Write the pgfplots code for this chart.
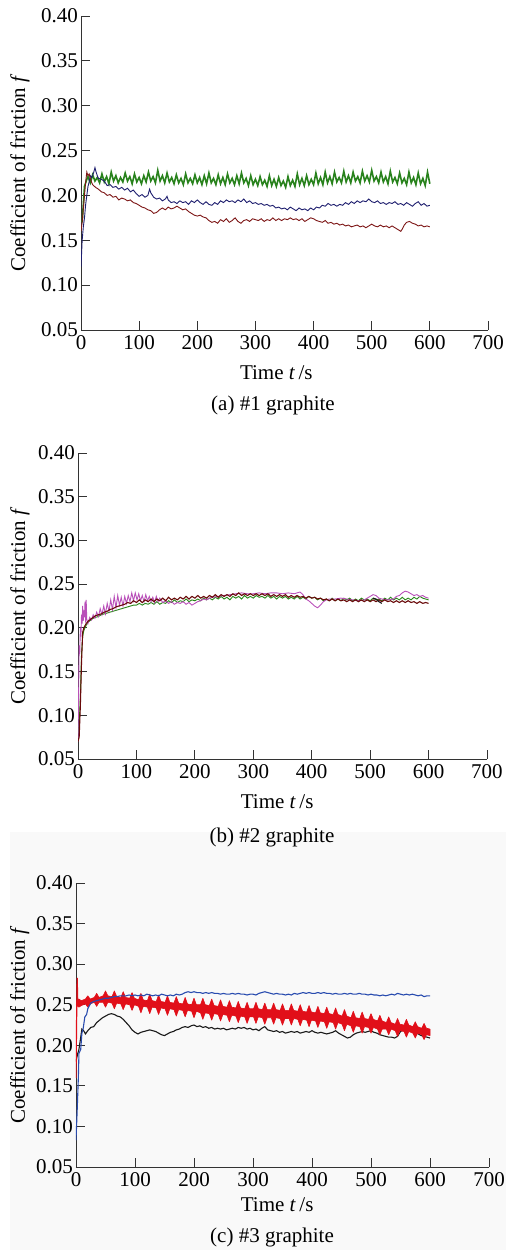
\documentclass[border=0pt]{standalone}
\usepackage{fontspec}
\setmainfont{Liberation Serif}
\usepackage{pgfplots}
\pgfplotsset{compat=1.18}
\definecolor{aGreen}{RGB}{40,130,28}
\definecolor{aNavy}{RGB}{30,30,110}
\definecolor{aMaroon}{RGB}{125,22,22}
\definecolor{bGreen}{RGB}{40,135,25}
\definecolor{bMaroon}{RGB}{105,10,10}
\definecolor{bMagenta}{RGB}{185,80,185}
\definecolor{cBlue}{RGB}{40,75,175}
\definecolor{cRed}{RGB}{225,15,25}
\definecolor{cBlack}{RGB}{25,25,25}
\definecolor{cBack}{RGB}{249,249,249}
\pgfplotsset{
  panel/.style={
    scale only axis,
    xmin=0, xmax=700, ymin=0.05, ymax=0.40,
    xtick={0,100,200,300,400,500,600,700},
    ytick={0.05,0.10,0.15,0.20,0.25,0.30,0.35,0.40},
    yticklabel style={/pgf/number format/fixed, /pgf/number format/fixed zerofill, /pgf/number format/precision=2, inner xsep=3pt},
    xticklabel style={yshift=-1.5pt},
    /pgf/number format/assume math mode=true,
    axis x line*=bottom, axis y line*=left,
    axis line style={-, black!80, line width=0.9pt},
    tick style={black!80, line width=0.9pt},
    tick align=inside, major tick length=9pt,
    xlabel={Time \textit{t}\,/s},
    ylabel={Coefficient of friction \textit{f}},
    anchor=south west,
  }
}
\begin{document}
\begin{tikzpicture}[font=\fontsize{21}{25}\selectfont]
\fill[cBack] (10pt,-832pt) rectangle (506pt,-1250pt);

% ---------------- (a) ----------------
\begin{axis}[panel, at={(81pt,-330pt)}, width=407pt, height=314pt,
  xlabel style={at={(axis description cs:0.48,-0.137)}, anchor=center},
  ylabel style={at={(axis description cs:-0.150,0.5)}, anchor=center}]
\addplot[aGreen, line width=1.6pt] table[row sep=\\] {t f\\
2 0.170\\ 6 0.210\\ 10 0.218\\ 12 0.221\\ 16 0.214\\ 20 0.223\\ 24 0.216\\ 28 0.220\\ 32 0.214\\ 36 0.224\\ 40 0.215\\ 44 0.221\\ 48 0.213\\ 52 0.226\\ 56 0.216\\ 60 0.222\\ 64 0.214\\ 68 0.220\\ 72 0.215\\ 76 0.225\\ 80 0.216\\ 84 0.221\\ 88 0.213\\ 92 0.224\\ 96 0.215\\ 100 0.220\\ 104 0.213\\ 108 0.222\\ 112 0.215\\ 116 0.226\\ 120 0.216\\ 124 0.221\\ 128 0.214\\ 132 0.228\\ 136 0.216\\ 140 0.222\\ 144 0.214\\ 148 0.225\\ 152 0.215\\ 156 0.220\\ 160 0.213\\ 164 0.223\\ 168 0.214\\ 172 0.219\\ 176 0.212\\ 180 0.224\\ 184 0.214\\ 188 0.219\\ 192 0.213\\ 196 0.223\\ 200 0.214\\ 204 0.220\\ 208 0.212\\ 212 0.222\\ 216 0.213\\ 220 0.225\\ 224 0.214\\ 228 0.219\\ 232 0.212\\ 236 0.223\\ 240 0.213\\ 244 0.220\\ 248 0.212\\ 252 0.224\\ 256 0.214\\ 260 0.219\\ 264 0.212\\ 268 0.222\\ 272 0.213\\ 276 0.225\\ 280 0.214\\ 284 0.219\\ 288 0.211\\ 292 0.222\\ 296 0.212\\ 300 0.218\\ 304 0.211\\ 308 0.221\\ 312 0.212\\ 316 0.217\\ 320 0.210\\ 324 0.222\\ 328 0.211\\ 332 0.218\\ 336 0.210\\ 340 0.220\\ 344 0.211\\ 348 0.216\\ 352 0.209\\ 356 0.221\\ 360 0.211\\ 364 0.217\\ 368 0.210\\ 372 0.224\\ 376 0.212\\ 380 0.219\\ 384 0.211\\ 388 0.222\\ 392 0.212\\ 396 0.218\\ 400 0.212\\ 404 0.225\\ 408 0.213\\ 412 0.220\\ 416 0.212\\ 420 0.226\\ 424 0.214\\ 428 0.221\\ 432 0.213\\ 436 0.226\\ 440 0.215\\ 444 0.220\\ 448 0.214\\ 452 0.227\\ 456 0.215\\ 460 0.222\\ 464 0.214\\ 468 0.226\\ 472 0.216\\ 476 0.221\\ 480 0.214\\ 484 0.227\\ 488 0.216\\ 492 0.222\\ 496 0.215\\ 500 0.228\\ 504 0.216\\ 508 0.221\\ 512 0.214\\ 516 0.226\\ 520 0.215\\ 524 0.221\\ 528 0.213\\ 532 0.227\\ 536 0.215\\ 540 0.220\\ 544 0.213\\ 548 0.225\\ 552 0.214\\ 556 0.219\\ 560 0.212\\ 564 0.226\\ 568 0.214\\ 572 0.220\\ 576 0.212\\ 580 0.225\\ 584 0.213\\ 588 0.219\\ 592 0.211\\ 596 0.226\\ 600 0.213\\
};
\addplot[aNavy, line width=0.9pt] table[row sep=\\] {t f\\
0 0.120\\ 2 0.150\\ 4 0.165\\ 6 0.175\\ 8 0.190\\ 10 0.200\\ 12 0.210\\ 14 0.215\\ 16 0.222\\ 18 0.220\\ 20 0.222\\ 22 0.226\\ 24 0.231\\ 26 0.226\\ 28 0.222\\ 30 0.219\\ 35 0.218\\ 40 0.216\\ 45 0.211\\ 50 0.212\\ 55 0.209\\ 60 0.210\\ 65 0.207\\ 70 0.209\\ 75 0.206\\ 80 0.208\\ 85 0.204\\ 90 0.206\\ 95 0.202\\ 100 0.199\\ 105 0.201\\ 110 0.198\\ 115 0.200\\ 118 0.207\\ 120 0.203\\ 125 0.198\\ 130 0.196\\ 135 0.197\\ 140 0.194\\ 145 0.196\\ 148 0.199\\ 150 0.195\\ 155 0.192\\ 160 0.193\\ 165 0.191\\ 170 0.194\\ 175 0.192\\ 180 0.193\\ 185 0.190\\ 190 0.194\\ 195 0.192\\ 200 0.195\\ 205 0.192\\ 210 0.190\\ 215 0.193\\ 220 0.190\\ 225 0.189\\ 230 0.192\\ 235 0.190\\ 240 0.194\\ 245 0.192\\ 250 0.195\\ 255 0.193\\ 260 0.194\\ 265 0.192\\ 270 0.195\\ 275 0.193\\ 280 0.196\\ 285 0.192\\ 290 0.194\\ 295 0.191\\ 300 0.192\\ 305 0.190\\ 310 0.191\\ 315 0.189\\ 320 0.190\\ 325 0.188\\ 330 0.189\\ 335 0.186\\ 340 0.187\\ 345 0.185\\ 350 0.186\\ 355 0.184\\ 360 0.187\\ 365 0.185\\ 370 0.183\\ 375 0.186\\ 380 0.184\\ 385 0.185\\ 390 0.183\\ 395 0.186\\ 400 0.184\\ 405 0.187\\ 410 0.186\\ 415 0.189\\ 420 0.188\\ 425 0.191\\ 430 0.189\\ 435 0.190\\ 440 0.188\\ 445 0.190\\ 450 0.189\\ 455 0.192\\ 460 0.190\\ 465 0.193\\ 470 0.191\\ 475 0.194\\ 480 0.192\\ 485 0.194\\ 490 0.193\\ 495 0.196\\ 500 0.193\\ 505 0.192\\ 510 0.194\\ 515 0.191\\ 520 0.192\\ 525 0.190\\ 530 0.192\\ 535 0.191\\ 540 0.193\\ 545 0.190\\ 550 0.191\\ 555 0.189\\ 560 0.192\\ 565 0.190\\ 570 0.188\\ 575 0.191\\ 580 0.193\\ 585 0.189\\ 590 0.191\\ 595 0.188\\ 600 0.189\\
};
\addplot[aMaroon, line width=0.9pt] table[row sep=\\] {t f\\
0 0.160\\ 2 0.170\\ 4 0.185\\ 6 0.200\\ 8 0.215\\ 10 0.226\\ 12 0.222\\ 14 0.224\\ 16 0.219\\ 18 0.215\\ 20 0.212\\ 25 0.209\\ 30 0.207\\ 35 0.204\\ 40 0.203\\ 45 0.200\\ 50 0.201\\ 55 0.198\\ 60 0.199\\ 65 0.195\\ 70 0.197\\ 75 0.196\\ 80 0.194\\ 85 0.195\\ 90 0.192\\ 95 0.191\\ 100 0.189\\ 105 0.187\\ 110 0.186\\ 115 0.184\\ 120 0.183\\ 125 0.180\\ 130 0.181\\ 135 0.184\\ 140 0.186\\ 145 0.184\\ 150 0.187\\ 155 0.185\\ 160 0.186\\ 165 0.188\\ 170 0.186\\ 175 0.184\\ 180 0.185\\ 185 0.182\\ 190 0.180\\ 195 0.178\\ 200 0.177\\ 205 0.178\\ 210 0.176\\ 215 0.175\\ 220 0.172\\ 225 0.170\\ 230 0.171\\ 235 0.169\\ 240 0.173\\ 245 0.171\\ 250 0.174\\ 255 0.170\\ 260 0.172\\ 265 0.175\\ 270 0.171\\ 275 0.169\\ 280 0.172\\ 285 0.173\\ 290 0.171\\ 295 0.174\\ 300 0.173\\ 305 0.172\\ 310 0.174\\ 315 0.171\\ 320 0.173\\ 325 0.172\\ 330 0.175\\ 335 0.172\\ 340 0.174\\ 345 0.172\\ 350 0.174\\ 355 0.173\\ 360 0.175\\ 365 0.173\\ 370 0.174\\ 375 0.172\\ 380 0.174\\ 385 0.171\\ 390 0.173\\ 395 0.175\\ 400 0.174\\ 405 0.172\\ 410 0.171\\ 415 0.170\\ 420 0.172\\ 425 0.169\\ 430 0.170\\ 435 0.168\\ 440 0.169\\ 445 0.167\\ 450 0.168\\ 455 0.166\\ 460 0.167\\ 465 0.165\\ 470 0.166\\ 475 0.167\\ 480 0.165\\ 485 0.166\\ 490 0.164\\ 495 0.166\\ 500 0.168\\ 505 0.166\\ 510 0.165\\ 515 0.167\\ 520 0.165\\ 525 0.166\\ 530 0.164\\ 535 0.166\\ 540 0.164\\ 545 0.162\\ 550 0.160\\ 553 0.163\\ 556 0.167\\ 560 0.170\\ 565 0.171\\ 570 0.169\\ 575 0.168\\ 580 0.166\\ 585 0.167\\ 590 0.165\\ 595 0.166\\ 600 0.165\\
};
\end{axis}
\node at (273pt,-405pt) {(a) \#1 graphite};

% ---------------- (b) ----------------
\begin{axis}[panel, at={(78pt,-759pt)}, width=409pt, height=306pt,
  xlabel style={at={(axis description cs:0.487,-0.14)}, anchor=center},
  ylabel style={at={(axis description cs:-0.142,0.5)}, anchor=center}]
\addplot[bGreen, line width=0.9pt] table[row sep=\\] {t f\\
0 0.080\\ 2 0.090\\ 4 0.120\\ 6 0.170\\ 8 0.190\\ 10 0.197\\ 14 0.203\\ 18 0.207\\ 22 0.209\\ 26 0.211\\ 30 0.212\\ 35 0.213\\ 40 0.215\\ 45 0.216\\ 50 0.217\\ 55 0.218\\ 60 0.219\\ 65 0.220\\ 70 0.221\\ 75 0.222\\ 80 0.223\\ 85 0.224\\ 90 0.225\\ 95 0.226\\ 100 0.226\\ 105 0.228\\ 110 0.226\\ 115 0.228\\ 120 0.227\\ 125 0.229\\ 130 0.227\\ 135 0.230\\ 140 0.227\\ 145 0.229\\ 150 0.228\\ 155 0.231\\ 160 0.229\\ 165 0.232\\ 170 0.229\\ 175 0.231\\ 180 0.230\\ 185 0.233\\ 190 0.230\\ 195 0.232\\ 200 0.231\\ 205 0.233\\ 210 0.231\\ 215 0.234\\ 220 0.232\\ 225 0.234\\ 230 0.232\\ 235 0.235\\ 240 0.233\\ 245 0.236\\ 250 0.233\\ 255 0.235\\ 260 0.232\\ 265 0.236\\ 270 0.234\\ 275 0.236\\ 280 0.233\\ 285 0.237\\ 290 0.234\\ 295 0.236\\ 300 0.234\\ 305 0.237\\ 310 0.235\\ 315 0.236\\ 320 0.234\\ 325 0.237\\ 330 0.234\\ 335 0.236\\ 340 0.233\\ 345 0.236\\ 350 0.234\\ 355 0.236\\ 360 0.233\\ 365 0.235\\ 370 0.233\\ 375 0.236\\ 380 0.233\\ 385 0.235\\ 390 0.233\\ 395 0.236\\ 400 0.234\\ 405 0.235\\ 410 0.232\\ 415 0.234\\ 420 0.231\\ 425 0.233\\ 430 0.231\\ 435 0.234\\ 440 0.231\\ 445 0.233\\ 450 0.231\\ 455 0.234\\ 460 0.232\\ 465 0.234\\ 470 0.231\\ 475 0.233\\ 480 0.231\\ 485 0.234\\ 490 0.232\\ 495 0.233\\ 500 0.231\\ 505 0.234\\ 510 0.232\\ 515 0.233\\ 520 0.231\\ 525 0.234\\ 530 0.232\\ 535 0.235\\ 540 0.232\\ 545 0.234\\ 550 0.232\\ 555 0.235\\ 560 0.232\\ 565 0.234\\ 570 0.232\\ 575 0.235\\ 580 0.233\\ 585 0.236\\ 590 0.234\\ 595 0.233\\ 600 0.232\\
};
\addplot[bMagenta, line width=0.9pt] table[row sep=\\] {t f\\
0 0.070\\ 1 0.120\\ 2 0.180\\ 3 0.170\\ 4 0.200\\ 5 0.190\\ 6 0.215\\ 7 0.205\\ 8 0.225\\ 9 0.208\\ 10 0.220\\ 11 0.212\\ 12 0.230\\ 13 0.206\\ 14 0.232\\ 15 0.210\\ 17 0.205\\ 20 0.212\\ 23 0.209\\ 26 0.215\\ 29 0.211\\ 32 0.218\\ 35 0.213\\ 38 0.222\\ 41 0.215\\ 44 0.225\\ 47 0.216\\ 50 0.228\\ 53 0.219\\ 56 0.232\\ 59 0.221\\ 62 0.236\\ 65 0.223\\ 68 0.237\\ 71 0.226\\ 74 0.235\\ 77 0.225\\ 80 0.236\\ 83 0.228\\ 86 0.237\\ 89 0.230\\ 92 0.240\\ 95 0.231\\ 98 0.240\\ 101 0.232\\ 104 0.239\\ 107 0.231\\ 110 0.237\\ 113 0.230\\ 116 0.238\\ 119 0.231\\ 122 0.236\\ 125 0.230\\ 128 0.235\\ 131 0.229\\ 134 0.236\\ 137 0.230\\ 140 0.234\\ 145 0.229\\ 150 0.231\\ 155 0.228\\ 160 0.230\\ 165 0.227\\ 170 0.229\\ 175 0.228\\ 180 0.230\\ 185 0.227\\ 190 0.229\\ 195 0.226\\ 200 0.228\\ 205 0.230\\ 210 0.231\\ 215 0.233\\ 220 0.232\\ 225 0.234\\ 230 0.235\\ 240 0.236\\ 250 0.237\\ 260 0.238\\ 270 0.239\\ 280 0.240\\ 290 0.239\\ 300 0.239\\ 310 0.240\\ 320 0.239\\ 330 0.240\\ 340 0.240\\ 350 0.239\\ 360 0.240\\ 370 0.239\\ 380 0.241\\ 385 0.238\\ 390 0.233\\ 395 0.231\\ 400 0.228\\ 405 0.225\\ 410 0.223\\ 415 0.226\\ 420 0.230\\ 425 0.232\\ 430 0.233\\ 440 0.233\\ 450 0.234\\ 460 0.233\\ 470 0.232\\ 480 0.231\\ 490 0.232\\ 500 0.236\\ 505 0.238\\ 510 0.237\\ 515 0.234\\ 520 0.233\\ 530 0.232\\ 540 0.233\\ 545 0.236\\ 550 0.237\\ 555 0.240\\ 560 0.242\\ 565 0.241\\ 570 0.239\\ 575 0.237\\ 580 0.238\\ 585 0.236\\ 590 0.237\\ 595 0.235\\ 600 0.234\\
};
\addplot[bMaroon, line width=1.1pt] table[row sep=\\] {t f\\
0 0.070\\ 2 0.075\\ 4 0.110\\ 6 0.160\\ 8 0.195\\ 10 0.200\\ 14 0.205\\ 18 0.208\\ 22 0.210\\ 26 0.212\\ 30 0.214\\ 35 0.215\\ 40 0.216\\ 45 0.218\\ 50 0.219\\ 55 0.221\\ 60 0.222\\ 65 0.224\\ 70 0.225\\ 75 0.226\\ 80 0.227\\ 85 0.229\\ 90 0.228\\ 95 0.231\\ 100 0.229\\ 105 0.232\\ 110 0.229\\ 115 0.232\\ 120 0.230\\ 125 0.233\\ 130 0.230\\ 135 0.233\\ 140 0.231\\ 145 0.234\\ 150 0.231\\ 155 0.235\\ 160 0.232\\ 165 0.234\\ 170 0.232\\ 175 0.235\\ 180 0.233\\ 185 0.236\\ 190 0.233\\ 195 0.236\\ 200 0.234\\ 205 0.237\\ 210 0.234\\ 215 0.236\\ 220 0.234\\ 225 0.237\\ 230 0.235\\ 235 0.238\\ 240 0.235\\ 245 0.238\\ 250 0.236\\ 255 0.238\\ 260 0.236\\ 265 0.239\\ 270 0.237\\ 275 0.240\\ 280 0.237\\ 285 0.239\\ 290 0.237\\ 295 0.239\\ 300 0.237\\ 305 0.239\\ 310 0.237\\ 315 0.239\\ 320 0.237\\ 325 0.239\\ 330 0.236\\ 335 0.238\\ 340 0.236\\ 345 0.238\\ 350 0.236\\ 355 0.238\\ 360 0.235\\ 365 0.237\\ 370 0.235\\ 375 0.237\\ 380 0.235\\ 385 0.236\\ 390 0.234\\ 395 0.236\\ 400 0.234\\ 405 0.235\\ 410 0.233\\ 415 0.234\\ 420 0.232\\ 425 0.233\\ 430 0.231\\ 435 0.233\\ 440 0.231\\ 445 0.233\\ 450 0.231\\ 455 0.232\\ 460 0.230\\ 465 0.232\\ 470 0.230\\ 475 0.232\\ 480 0.230\\ 485 0.232\\ 490 0.230\\ 495 0.232\\ 500 0.230\\ 505 0.232\\ 510 0.230\\ 515 0.232\\ 520 0.230\\ 525 0.232\\ 530 0.230\\ 535 0.231\\ 540 0.229\\ 545 0.231\\ 550 0.229\\ 555 0.231\\ 560 0.229\\ 565 0.231\\ 570 0.229\\ 575 0.230\\ 580 0.228\\ 585 0.230\\ 590 0.228\\ 595 0.229\\ 600 0.228\\
};
\addplot[cBlack, line width=1.1pt] table[row sep=\\] {t f\\
505 0.234\\ 510 0.233\\ 515 0.230\\ 520 0.228\\
};
\end{axis}
\node at (272pt,-837pt) {(b) \#2 graphite};

% ---------------- (c) ----------------
\begin{axis}[panel, at={(76pt,-1167pt)}, width=413pt, height=284pt,
  xlabel style={at={(axis description cs:0.487,-0.134)}, anchor=center},
  ylabel style={at={(axis description cs:-0.136,0.5)}, anchor=center}]
\addplot[cBlack, line width=1.1pt] table[row sep=\\] {t f\\
0 0.180\\ 3 0.190\\ 5 0.195\\ 8 0.210\\ 10 0.220\\ 13 0.218\\ 16 0.214\\ 20 0.218\\ 25 0.222\\ 30 0.223\\ 35 0.228\\ 40 0.231\\ 45 0.234\\ 50 0.236\\ 55 0.238\\ 60 0.239\\ 65 0.238\\ 70 0.236\\ 75 0.235\\ 80 0.232\\ 85 0.228\\ 90 0.224\\ 95 0.219\\ 100 0.216\\ 105 0.214\\ 110 0.216\\ 115 0.217\\ 120 0.218\\ 125 0.219\\ 130 0.218\\ 135 0.217\\ 140 0.215\\ 145 0.213\\ 150 0.212\\ 155 0.214\\ 160 0.216\\ 165 0.217\\ 170 0.219\\ 175 0.220\\ 180 0.222\\ 185 0.223\\ 190 0.222\\ 195 0.224\\ 200 0.225\\ 205 0.223\\ 210 0.224\\ 215 0.222\\ 220 0.223\\ 225 0.221\\ 230 0.222\\ 235 0.220\\ 240 0.221\\ 245 0.220\\ 250 0.221\\ 255 0.219\\ 260 0.220\\ 265 0.221\\ 270 0.220\\ 275 0.222\\ 280 0.221\\ 285 0.222\\ 290 0.220\\ 295 0.221\\ 300 0.219\\ 305 0.220\\ 310 0.218\\ 315 0.221\\ 320 0.223\\ 325 0.219\\ 330 0.218\\ 335 0.217\\ 340 0.218\\ 345 0.216\\ 350 0.217\\ 355 0.215\\ 360 0.216\\ 365 0.217\\ 370 0.216\\ 375 0.217\\ 380 0.215\\ 385 0.216\\ 390 0.217\\ 395 0.216\\ 400 0.218\\ 405 0.216\\ 410 0.215\\ 415 0.216\\ 420 0.215\\ 425 0.214\\ 430 0.215\\ 435 0.216\\ 440 0.218\\ 445 0.215\\ 450 0.213\\ 455 0.211\\ 460 0.209\\ 465 0.210\\ 470 0.213\\ 475 0.215\\ 480 0.216\\ 485 0.217\\ 490 0.216\\ 495 0.217\\ 500 0.218\\ 505 0.216\\ 510 0.215\\ 515 0.213\\ 520 0.212\\ 525 0.211\\ 530 0.210\\ 535 0.210\\ 540 0.209\\ 545 0.211\\ 550 0.217\\ 555 0.219\\ 560 0.218\\ 565 0.220\\ 570 0.218\\ 575 0.217\\ 580 0.214\\ 585 0.212\\ 590 0.211\\ 595 0.210\\ 600 0.209\\
};
% red: band of the fast oscillation, upper envelope forward, lower envelope back
\addplot[cRed, fill=cRed, line width=0.6pt, line join=round] table[row sep=\\] {t f\\
1 0.255\\ 5 0.257\\ 9 0.255\\ 16 0.257\\ 20 0.261\\ 24 0.257\\ 31 0.259\\ 35 0.264\\ 39 0.259\\ 46 0.261\\ 50 0.267\\ 54 0.261\\ 61 0.260\\ 65 0.267\\ 69 0.260\\ 76 0.259\\ 80 0.266\\ 84 0.259\\ 91 0.258\\ 95 0.265\\ 99 0.258\\ 106 0.256\\ 110 0.264\\ 114 0.256\\ 121 0.255\\ 125 0.263\\ 129 0.255\\ 136 0.254\\ 140 0.262\\ 144 0.254\\ 151 0.253\\ 155 0.261\\ 159 0.253\\ 166 0.252\\ 170 0.260\\ 174 0.252\\ 181 0.251\\ 185 0.259\\ 189 0.251\\ 196 0.250\\ 200 0.258\\ 204 0.250\\ 211 0.250\\ 215 0.258\\ 219 0.250\\ 226 0.249\\ 230 0.257\\ 234 0.249\\ 241 0.248\\ 245 0.256\\ 249 0.248\\ 256 0.247\\ 260 0.255\\ 264 0.247\\ 271 0.246\\ 275 0.254\\ 279 0.246\\ 286 0.245\\ 290 0.253\\ 294 0.245\\ 301 0.245\\ 305 0.253\\ 309 0.245\\ 316 0.244\\ 320 0.252\\ 324 0.244\\ 331 0.244\\ 335 0.252\\ 339 0.244\\ 346 0.243\\ 350 0.251\\ 354 0.243\\ 361 0.243\\ 365 0.251\\ 369 0.243\\ 376 0.242\\ 380 0.250\\ 384 0.242\\ 391 0.241\\ 395 0.249\\ 399 0.241\\ 406 0.240\\ 410 0.248\\ 414 0.240\\ 421 0.239\\ 425 0.247\\ 429 0.239\\ 436 0.238\\ 440 0.246\\ 444 0.238\\ 451 0.236\\ 455 0.244\\ 459 0.236\\ 466 0.234\\ 470 0.242\\ 474 0.234\\ 481 0.233\\ 485 0.241\\ 489 0.233\\ 496 0.232\\ 500 0.239\\ 504 0.232\\ 511 0.230\\ 515 0.237\\ 519 0.230\\ 526 0.228\\ 530 0.235\\ 534 0.228\\ 541 0.226\\ 545 0.233\\ 549 0.226\\ 556 0.225\\ 560 0.232\\ 564 0.225\\ 571 0.223\\ 575 0.229\\ 579 0.223\\ 586 0.221\\ 590 0.227\\ 594 0.221\\ 600 0.220\\
600 0.212\\ 594 0.213\\ 590 0.207\\ 586 0.213\\ 579 0.215\\ 575 0.209\\ 571 0.215\\ 564 0.217\\ 560 0.210\\ 556 0.217\\ 549 0.218\\ 545 0.211\\ 541 0.218\\ 534 0.220\\ 530 0.213\\ 526 0.220\\ 519 0.220\\ 515 0.213\\ 511 0.220\\ 504 0.222\\ 500 0.215\\ 496 0.222\\ 489 0.223\\ 485 0.215\\ 481 0.223\\ 474 0.224\\ 470 0.216\\ 466 0.224\\ 459 0.226\\ 455 0.218\\ 451 0.226\\ 444 0.228\\ 440 0.220\\ 436 0.228\\ 429 0.229\\ 425 0.221\\ 421 0.229\\ 414 0.230\\ 410 0.222\\ 406 0.230\\ 399 0.231\\ 395 0.223\\ 391 0.231\\ 384 0.232\\ 380 0.224\\ 376 0.232\\ 369 0.233\\ 365 0.225\\ 361 0.233\\ 354 0.233\\ 350 0.225\\ 346 0.233\\ 339 0.234\\ 335 0.226\\ 331 0.234\\ 324 0.234\\ 320 0.226\\ 316 0.234\\ 309 0.235\\ 305 0.227\\ 301 0.235\\ 294 0.235\\ 290 0.227\\ 286 0.235\\ 279 0.236\\ 275 0.228\\ 271 0.236\\ 264 0.237\\ 260 0.229\\ 256 0.237\\ 249 0.238\\ 245 0.230\\ 241 0.238\\ 234 0.239\\ 230 0.231\\ 226 0.239\\ 219 0.240\\ 215 0.232\\ 211 0.240\\ 204 0.242\\ 200 0.234\\ 196 0.242\\ 189 0.243\\ 185 0.235\\ 181 0.243\\ 174 0.244\\ 170 0.236\\ 166 0.244\\ 159 0.245\\ 155 0.237\\ 151 0.245\\ 144 0.246\\ 140 0.238\\ 136 0.246\\ 129 0.247\\ 125 0.239\\ 121 0.247\\ 114 0.248\\ 110 0.240\\ 106 0.248\\ 99 0.250\\ 95 0.243\\ 91 0.250\\ 84 0.251\\ 80 0.244\\ 76 0.251\\ 69 0.252\\ 65 0.245\\ 61 0.252\\ 54 0.253\\ 50 0.247\\ 46 0.253\\ 39 0.253\\ 35 0.248\\ 31 0.253\\ 24 0.251\\ 20 0.247\\ 16 0.251\\ 9 0.249\\ 5 0.247\\ 1 0.249\\
} -- cycle;
\addplot[cRed, line width=1.2pt] table[row sep=\\] {t f\\
0 0.160\\ 1 0.230\\ 2 0.283\\ 3 0.252\\ 5 0.252\\
};
\addplot[cBlue, line width=1.1pt] table[row sep=\\] {t f\\
0 0.083\\ 2 0.120\\ 4 0.160\\ 5 0.190\\ 8 0.195\\ 10 0.215\\ 12 0.220\\ 15 0.235\\ 18 0.238\\ 20 0.245\\ 25 0.252\\ 30 0.254\\ 35 0.255\\ 40 0.256\\ 45 0.257\\ 50 0.258\\ 55 0.258\\ 60 0.259\\ 65 0.260\\ 70 0.260\\ 75 0.261\\ 80 0.261\\ 85 0.261\\ 90 0.262\\ 95 0.261\\ 100 0.262\\ 105 0.261\\ 110 0.262\\ 115 0.261\\ 120 0.263\\ 125 0.262\\ 130 0.261\\ 135 0.262\\ 140 0.261\\ 145 0.263\\ 150 0.262\\ 155 0.261\\ 160 0.262\\ 165 0.261\\ 170 0.263\\ 175 0.262\\ 180 0.263\\ 185 0.265\\ 190 0.266\\ 195 0.265\\ 200 0.266\\ 205 0.265\\ 210 0.265\\ 215 0.264\\ 220 0.265\\ 225 0.264\\ 230 0.265\\ 235 0.264\\ 240 0.264\\ 245 0.263\\ 250 0.264\\ 255 0.263\\ 260 0.263\\ 265 0.264\\ 270 0.263\\ 275 0.264\\ 280 0.263\\ 285 0.263\\ 290 0.262\\ 295 0.263\\ 300 0.263\\ 305 0.262\\ 310 0.264\\ 315 0.265\\ 320 0.266\\ 325 0.265\\ 330 0.264\\ 335 0.263\\ 340 0.264\\ 345 0.263\\ 350 0.263\\ 355 0.262\\ 360 0.263\\ 365 0.262\\ 370 0.264\\ 375 0.263\\ 380 0.264\\ 385 0.265\\ 390 0.264\\ 395 0.265\\ 400 0.264\\ 405 0.264\\ 410 0.265\\ 415 0.264\\ 420 0.265\\ 425 0.264\\ 430 0.264\\ 435 0.263\\ 440 0.264\\ 445 0.263\\ 450 0.263\\ 455 0.264\\ 460 0.263\\ 465 0.264\\ 470 0.263\\ 475 0.263\\ 480 0.264\\ 485 0.263\\ 490 0.263\\ 495 0.262\\ 500 0.263\\ 505 0.262\\ 510 0.262\\ 515 0.261\\ 520 0.262\\ 525 0.261\\ 530 0.262\\ 535 0.263\\ 540 0.262\\ 545 0.264\\ 550 0.263\\ 555 0.262\\ 560 0.263\\ 565 0.262\\ 570 0.263\\ 575 0.262\\ 580 0.261\\ 585 0.262\\ 590 0.260\\ 595 0.261\\ 600 0.261\\
};
\end{axis}
\node at (272pt,-1237pt) {(c) \#3 graphite};
\pgfresetboundingbox
\useasboundingbox (0,0) rectangle (506pt,-1250pt);
\end{tikzpicture}
\end{document}
